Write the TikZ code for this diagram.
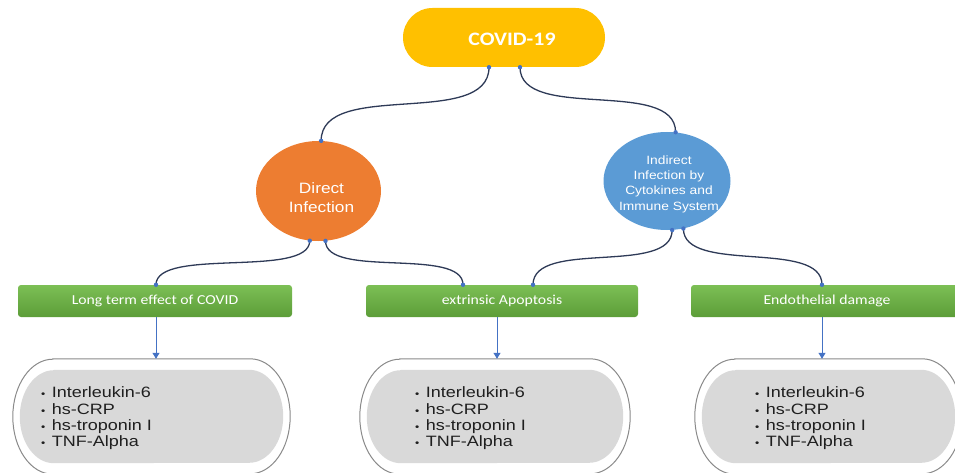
\documentclass[tikz,border=0pt]{standalone}
\usepackage{fontspec}
\setmainfont{Liberation Sans}
\newfontfamily\carl[FakeStretch=1.15]{Carlito}
\newfontfamily\arialx[FakeStretch=1.15]{Liberation Sans}
\newfontfamily\arialw[FakeStretch=1.2]{Liberation Sans}
\usetikzlibrary{arrows.meta,shapes.geometric,calc}
\definecolor{covy}{HTML}{FFC000}
\definecolor{orng}{HTML}{ED7D31}
\definecolor{blu}{HTML}{5B9BD5}
\definecolor{navy}{HTML}{2E3A57}
\definecolor{dotc}{HTML}{4472C4}
\definecolor{gtop}{HTML}{7CBF55}
\definecolor{gbot}{HTML}{5C9D38}
\definecolor{pillgray}{HTML}{D9D9D9}
\definecolor{pillline}{HTML}{8A8A8A}
\newcommand\bul{{\fontsize{10}{10}\selectfont\textbullet}}
\newcommand\listbody{\begin{tabular}{@{}l@{\hspace{6.5pt}}l@{}}\bul & Interleukin-6\\ \bul & hs-CRP\\ \bul & hs-troponin I\\ \bul & TNF-Alpha\end{tabular}}
\begin{document}
\begin{tikzpicture}[x=1pt,y=1pt,
  covbox/.style={rectangle, rounded corners=29.5pt, fill=covy, minimum width=202pt, minimum height=59pt, inner sep=0pt},
  ellnode/.style={ellipse, inner sep=0pt},
  whitetext/.style={text=white, align=center, inner sep=0pt},
  greenbox/.style={rectangle, rounded corners=3pt, top color=gtop, bottom color=gbot, minimum height=32pt, inner sep=0pt, text=white, font=\carl\fontsize{13.7}{15}\selectfont},
  pillnode/.style={rectangle, minimum height=115pt, inner sep=0pt},
  listtext/.style={anchor=west, inner sep=0pt, text=black!88, font=\arialw\fontsize{15}{16.3}\selectfont},
  connline/.style={draw=navy, line width=1.3pt},
  arr/.style={draw=dotc, line width=1pt, -{Triangle[length=6pt,width=7pt]}},
  pillout/.style={draw=pillline, line width=1pt, fill=white},
  pillin/.style={fill=pillgray}
]
\useasboundingbox (0,0) rectangle (955,472);
\clip (0,0) rectangle (955,472);

% main nodes
\node[covbox] (cov) at (504,434.5) {};
\node[whitetext, font=\carl\bfseries\fontsize{19}{21}\selectfont] (covt) at ($(cov)+(8,-1.5)$) {COVID-19};

\node[ellnode, fill=orng, minimum width=125pt, minimum height=100pt] (dir) at (318.5,281) {};
\node[whitetext, font=\arialx\fontsize{15}{19}\selectfont] (dirt) at ($(dir)+(3,-6.5)$) {Direct\\Infection};

\node[ellnode, fill=blu, minimum width=127pt, minimum height=98pt] (ind) at (667,291) {};
\node[whitetext, font=\arialx\fontsize{12}{15.3}\selectfont] (indt) at ($(ind)+(2,-3)$) {Indirect\\Infection by\\Cytokines and\\Immune System};

\node[greenbox, minimum width=274pt] (lt) at (155,171) {Long term effect of COVID};
\node[greenbox, minimum width=272pt] (ea) at (502,171) {extrinsic Apoptosis};
\node[greenbox, minimum width=272pt] (ed) at (827,171) {Endothelial damage};

% pills
\node[pillnode, minimum width=277pt] (o1) at (151.5,55.5) {};
\node[pillnode, minimum width=270pt] (o2) at (495,55.5) {};
\node[pillnode, minimum width=267pt] (o3) at (828.5,55.5) {};
\foreach \n in {o1,o2,o3}{
  \draw[pillout] ($(\n.north west)+(40,0)$) -- ($(\n.north east)+(-40,0)$)
     arc[start angle=90,end angle=-90,x radius=40,y radius=57.5]
     -- ($(\n.south west)+(40,0)$)
     arc[start angle=270,end angle=90,x radius=40,y radius=57.5] -- cycle;
  \fill[pillin] ($(\n.north west)+(41,-11)$) -- ($(\n.north east)+(-41,-11)$)
     arc[start angle=90,end angle=-90,x radius=34,y radius=46.5]
     -- ($(\n.south west)+(41,11)$)
     arc[start angle=270,end angle=90,x radius=34,y radius=46.5] -- cycle;
}
\node[listtext] (l1) at (41,53) {\listbody};
\node[listtext] (l2) at (415,53) {\listbody};
\node[listtext] (l3) at (755,53) {\listbody};

% connector end points
\coordinate (c1) at ($(cov.south)+(-15,0)$);
\coordinate (c2) at ($(cov.south)+(16,0)$);
\coordinate (d1) at (dir.87);
\coordinate (i1) at (ind.80);
\coordinate (d2) at (dir.260);
\coordinate (d3) at (dir.278);
\coordinate (i2) at (ind.276);
\coordinate (i3) at (ind.289);
\coordinate (g1) at ($(lt.north)+(1,0)$);
\coordinate (g2) at ($(ea.north)+(-39,0)$);
\coordinate (g3) at ($(ea.north)+(31,0)$);
\coordinate (g4) at ($(ed.north)+(-5,0)$);

\draw[connline] (c1) .. controls ($(c1)+(0,-62)$) and ($(d1)+(0,62)$) .. (d1);
\draw[connline] (c2) .. controls ($(c2)+(0,-55)$) and ($(i1)+(0,55)$) .. (i1);
\draw[connline] (d2) .. controls ($(d2)+(0,-38)$) and ($(g1)+(0,38)$) .. (g1);
\draw[connline] (d3) .. controls ($(d3)+(0,-38)$) and ($(g2)+(0,38)$) .. (g2);
\draw[connline] (i2) .. controls ($(i2)+(0,-46)$) and ($(g3)+(0,46)$) .. (g3);
\draw[connline] (i3) .. controls ($(i3)+(0,-46)$) and ($(g4)+(0,46)$) .. (g4);
\foreach \p in {c1,c2,d1,i1,d2,d3,i2,i3,g1,g2,g3,g4}{\fill[dotc] (\p) circle (2.2pt);}

% arrows
\draw[arr] ($(lt.south)+(1,0)$) coordinate (a1) -- (a1 |- o1.north);
\draw[arr] ($(ea.south)+(-5,0)$) coordinate (a2) -- (a2 |- o2.north);
\draw[arr] ($(ed.south)+(-5,0)$) coordinate (a3) -- (a3 |- o3.north);
\end{tikzpicture}
\end{document}
